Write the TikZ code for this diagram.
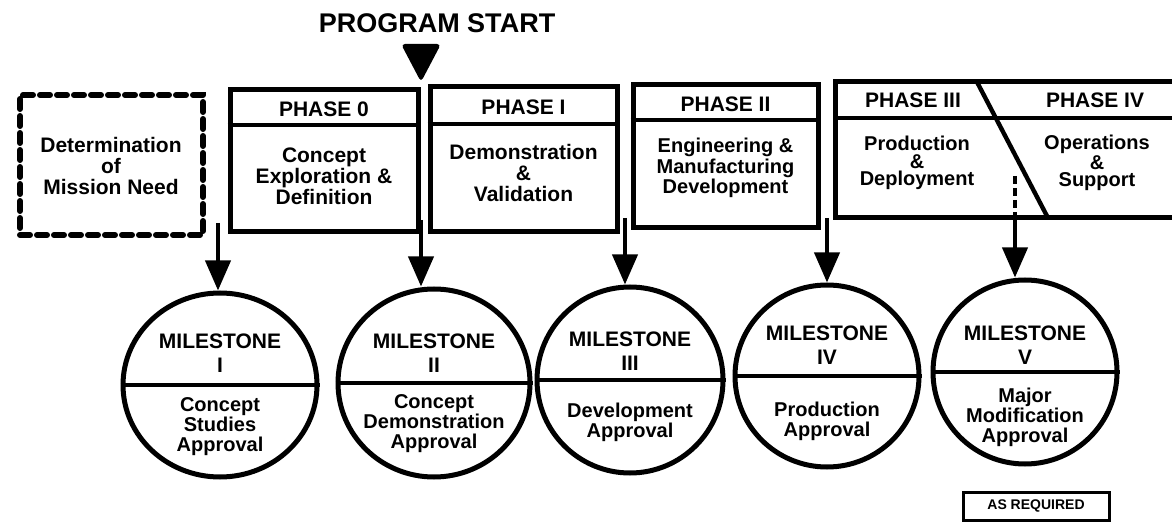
\documentclass[tikz,border=0pt]{standalone}
\usepackage{fontspec}
\setmainfont{Liberation Sans}
\usetikzlibrary{arrows.meta,shapes.geometric}
\begin{document}
\begin{tikzpicture}[x=0.5pt,y=-0.5pt,
  phasebox/.style={draw,line width=2.5pt,inner sep=0,rectangle},
  needbox/.style={draw,line width=3pt,inner sep=0,rectangle,dash pattern=on 5pt off 3.5pt,line cap=round},
  hline/.style={line width=2pt},
  hdr/.style={font=\bfseries\fontsize{10.5}{11}\selectfont,inner sep=0},
  body/.style={font=\bfseries\fontsize{10.5}{10.5}\selectfont,align=center,inner sep=0},
  bodyt/.style={font=\bfseries\fontsize{10}{8.8}\selectfont,align=center,inner sep=0},
  mstitle/.style={font=\bfseries\fontsize{10.5}{12}\selectfont,align=center,inner sep=0},
  mstext/.style={font=\bfseries\fontsize{10}{10}\selectfont,align=center,inner sep=0},
  ms/.style={draw,ellipse,line width=2.5pt,inner sep=0},
  arr/.style={line width=2pt,-{Triangle[length=15pt,width=12.5pt]}},
  prog/.style={font=\bfseries\fontsize{13.5}{14}\selectfont,inner sep=0}]
\useasboundingbox (0,0) rectangle (1172,523);

% Program start
\node[prog] (ps) at (437,23) {PROGRAM START};
\coordinate (pstip) at (421,82);
\fill[rounded corners=2pt] (401,44) -- (441,44) -- (pstip) -- cycle;

% Mission need
\node[needbox,minimum width=91.5pt,minimum height=70pt] (need) at (111.5,165) {};
\node[body] (needt) at (111,166) {Determination\\of\\Mission Need};

% Phase 0
\node[phasebox,minimum width=94pt,minimum height=71pt] (p0) at (324,161) {};
\draw[hline] ([yshift=-19pt]p0.north west) -- ([yshift=-19pt]p0.north east);
\node[hdr] (p0h) at (324,109) {PHASE 0};
\node[body] (p0t) at (324,176) {Concept\\Exploration \&\\Definition};

% Phase I
\node[phasebox,minimum width=93.5pt,minimum height=72.5pt] (p1) at (523.5,159.5) {};
\draw[hline] ([yshift=-20pt]p1.north west) -- ([yshift=-20pt]p1.north east);
\node[hdr] (p1h) at (523.5,107) {PHASE I};
\node[body] (p1t) at (523.5,173) {Demonstration\\\&\\Validation};

% Phase II
\node[phasebox,minimum width=92.5pt,minimum height=71.5pt] (p2) at (725.5,156.5) {};
\draw[hline] ([yshift=-19pt]p2.north west) -- ([yshift=-19pt]p2.north east);
\node[hdr] (p2h) at (725.5,104) {PHASE II};
\node[bodyt] (p2t) at (725.5,168) {Engineering \&\\Manufacturing\\Development};

% Phase III / IV
\coordinate (p3tr) at (1172,82);
\coordinate (p3tl) at (835,82);
\coordinate (p3bl) at (835,218);
\coordinate (p3br) at (1172,218);
\draw[line width=2.5pt] (p3tr) -- (p3tl) -- (p3bl) -- (p3br);
\draw[hline] (835,118) -- (1172,118);
\coordinate (dgt) at (977,82);
\coordinate (dgb) at (1048,218);
\draw[line width=2.2pt] (dgt) -- (dgb);
\node[hdr] (p3h) at (913,100) {PHASE III};
\node[hdr] (p4h) at (1095,100) {PHASE IV};
\node[bodyt] (p3t) at (917,163) {Production\\\&\\Deployment};
\node[bodyt] (p4t) at (1097,163) {Operations\\\&\\Support};

% Milestones
\node[ms,minimum width=97pt,minimum height=92pt] (m1) at (220,385) {};
\node[ms,minimum width=96pt,minimum height=94pt] (m2) at (434,383) {};
\node[ms,minimum width=93pt,minimum height=93pt] (m3) at (630,380) {};
\node[ms,minimum width=92pt,minimum height=91pt] (m4) at (827,376) {};
\node[ms,minimum width=92pt,minimum height=92pt] (m5) at (1025,372) {};
\foreach \m in {m1,m2,m3,m4,m5}{\draw[hline] (\m.west) -- (\m.east);}

\node[mstitle] (m1a) at (220,353) {MILESTONE\\I};
\node[mstext] (m1b) at (220,427) {Concept\\Studies\\Approval};
\node[mstitle] (m2a) at (434,353) {MILESTONE\\II};
\node[mstext] (m2b) at (434,424) {Concept\\Demonstration\\Approval};
\node[mstitle] (m3a) at (630,351) {MILESTONE\\III};
\node[mstext] (m3b) at (630,422) {Development\\Approval};
\node[mstitle] (m4a) at (827,345) {MILESTONE\\IV};
\node[mstext] (m4b) at (827,421) {Production\\Approval};
\node[mstitle] (m5a) at (1025,345) {MILESTONE\\V};
\node[mstext] (m5b) at (1025,417) {Major\\Modification\\Approval};

% Arrows
\coordinate (a1) at (218,223);
\coordinate (a2) at (421,220);
\coordinate (a3) at (625,218);
\coordinate (a4) at (827,218);
\coordinate (d1) at (1015,176);
\coordinate (a5) at (1015,218);
\draw[arr] (a1) -- (a1 |- m1.north);
\draw[arr] (a2) -- (a2 |- m2.north);
\draw[arr] (a3) -- (a3 |- m3.north);
\draw[arr] (a4) -- (a4 |- m4.north);
\draw[line width=2pt,dash pattern=on 4pt off 2pt] (d1) -- (a5);
\draw[arr] (a5) -- (a5 |- m5.north);

% As required
\node[draw,line width=1.5pt,minimum width=73pt,minimum height=14pt,inner sep=0,font=\bfseries\fontsize{7}{8}\selectfont] (asr) at (1036,506) {AS REQUIRED};
\end{tikzpicture}
\end{document}
